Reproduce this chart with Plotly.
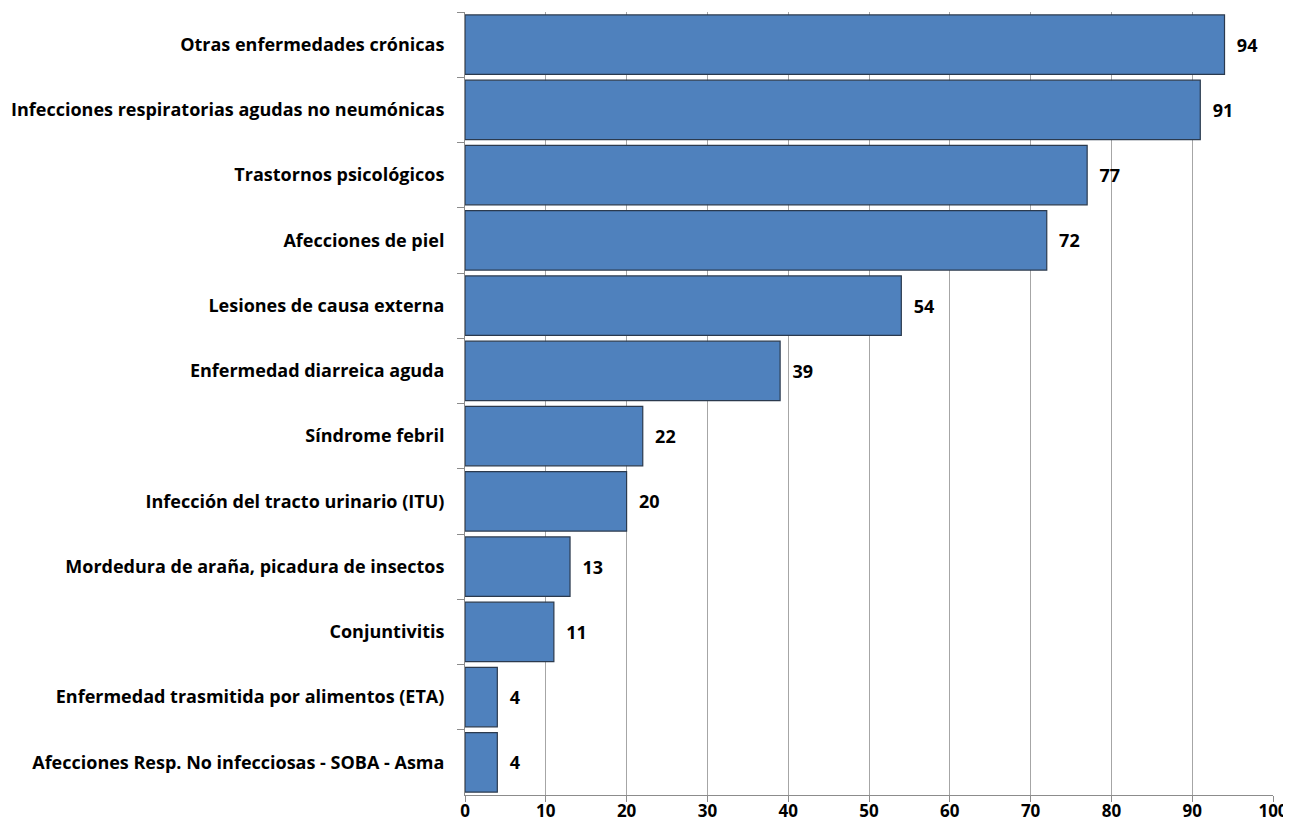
import plotly.graph_objects as go

categories = [
    "Otras enfermedades crónicas",
    "Infecciones respiratorias agudas no neumónicas",
    "Trastornos psicológicos",
    "Afecciones de piel",
    "Lesiones de causa externa",
    "Enfermedad diarreica aguda",
    "Síndrome febril",
    "Infección del tracto urinario (ITU)",
    "Mordedura de araña, picadura de insectos",
    "Conjuntivitis",
    "Enfermedad trasmitida por alimentos (ETA)",
    "Afecciones Resp. No infecciosas - SOBA - Asma",
]
values = [94, 91, 77, 72, 54, 39, 22, 20, 13, 11, 4, 4]
x_ticks = [0, 10, 20, 30, 40, 50, 60, 70, 80, 90, 100]

FONT = "Open Sans"

fig = go.Figure(go.Bar(
    y=categories,
    x=values,
    orientation="h",
    marker=dict(color="#4F81BD", line=dict(color="#2B3A4E", width=1.2)),
    text=["\u00a0\u00a0" + str(v) for v in values],
    textposition="outside",
    textfont=dict(family=FONT, size=18, color="#000000", weight="bold"),
    cliponaxis=False,
))

fig.update_layout(
    width=1283, height=816,
    margin=dict(l=457, r=18, t=4, b=29),
    paper_bgcolor="white", plot_bgcolor="white",
    bargap=0.09,
    showlegend=False,
    font=dict(family=FONT, size=18, color="#000000"),
)
fig.update_xaxes(
    range=[0, 100], tickvals=x_ticks, ticktext=[str(t) for t in x_ticks],
    showgrid=True, gridcolor="#A6A6A6", gridwidth=1,
    showline=True, linecolor="#8C8C8C", linewidth=1,
    ticks="outside", ticklen=6, tickcolor="#8C8C8C",
    tickfont=dict(family=FONT, size=17, color="#000000", weight="bold"),
    ticklabelstandoff=-5,
    ticklabeloverflow="allow",
    zeroline=False, automargin=False,
)
fig.update_yaxes(
    categoryorder="array", categoryarray=categories, autorange="reversed",
    showline=True, linecolor="#8C8C8C", linewidth=1,
    ticks="outside", ticklen=7, tickcolor="#8C8C8C", tickson="boundaries",
    tickfont=dict(family=FONT, size=18, color="#000000", weight="bold"),
    ticklabelstandoff=16,
    showgrid=False, automargin=False,
)

fig.write_html("out.html")
